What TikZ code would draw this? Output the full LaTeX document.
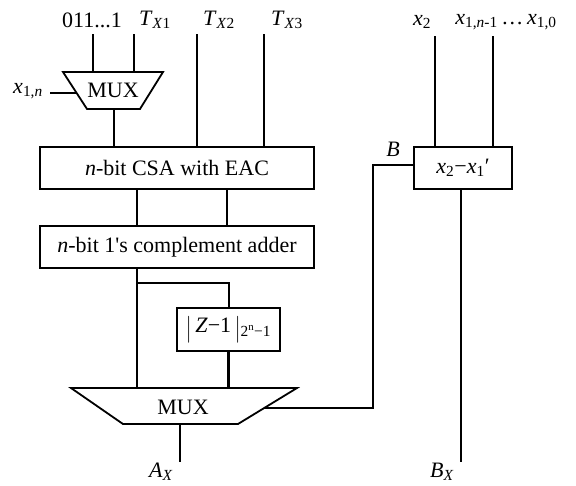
\documentclass[tikz,border=0pt]{standalone}
\usepackage{fontspec}
\setmainfont{Liberation Serif}
\begin{document}
\begin{tikzpicture}[x=1pt,y=-1pt,font=\fontsize{22}{26}\selectfont,
  wire/.style={line width=2.6pt},
  thinwire/.style={line width=2pt},
  blk/.style={draw,line width=1.8pt,rectangle,inner sep=0pt},
  muxshape/.style={draw,line width=1.8pt,line join=miter},
  lbl/.style={inner sep=0pt}]
\useasboundingbox (0,0) rectangle (576,485);
% blocks
\node[blk,minimum width=274pt,minimum height=42pt] (csa) at (177,168) {\textit{n}-bit CSA with EAC};
\node[blk,minimum width=274pt,minimum height=42pt] (add) at (177,247) {\textit{n}-bit 1\textquotesingle s complement adder};
\node[blk,minimum width=103pt,minimum height=43pt] (zb) at (228.5,329.5) {\raisebox{-0.15em}{\scalebox{1}[1.3]{$|$}}\,\textit{Z}−1\,\raisebox{-0.15em}{\scalebox{1}[1.3]{$|$}}\textsubscript{2\textsuperscript{n}−1}};
\node[blk,minimum width=98pt,minimum height=42pt] (xb) at (463,168) {\textit{x}\textsubscript{2}−\textit{x}\textsubscript{1}′};
% small mux
\coordinate (m1a) at (63,72); \coordinate (m1b) at (163,72);
\coordinate (m1c) at (140,109); \coordinate (m1d) at (87,109);
\draw[muxshape] (m1a)--(m1b)--(m1c)--(m1d)--cycle;
\node[lbl] (mux1) at (113,90) {MUX};
% big mux
\coordinate (m2a) at (71,388); \coordinate (m2b) at (297,388);
\coordinate (m2c) at (238,424); \coordinate (m2d) at (123,424);
\draw[muxshape] (m2a)--(m2b)--(m2c)--(m2d)--cycle;
\node[lbl] (mux2) at (183,407) {MUX};
% labels
\node[lbl] (l011) at (92,20) {011...1};
\node[lbl] (ltx1) at (155,20) {\textit{T}\textsubscript{\textit{X}1}};
\node[lbl] (ltx2) at (219,20) {\textit{T}\textsubscript{\textit{X}2}};
\node[lbl] (ltx3) at (287,20) {\textit{T}\textsubscript{\textit{X}3}};
\node[lbl] (lx1n) at (28,91) {\textit{x}\textsubscript{1,\textit{n}}};
\node[lbl] (lx2) at (422,22) {\textit{x}\textsubscript{2}};
\node[lbl] (lx1) at (506,22) {\textit{x}\textsubscript{1,\textit{n}-1}\,…\,\textit{x}\textsubscript{1,0}};
\node[lbl] (lB) at (393,149) {\textit{B}};
\node[lbl] (lAX) at (161,472) {\textit{A}\textsubscript{\textit{X}}};
\node[lbl] (lBX) at (442,472) {\textit{B}\textsubscript{\textit{X}}};
% wire end coordinates
\coordinate (w011) at (93,34);
\coordinate (wtx1) at (134,34);
\coordinate (wtx2) at (197,34);
\coordinate (wtx3) at (264,34);
\coordinate (wx1n) at (50,93);
\coordinate (wx2) at (435,36);
\coordinate (wx1) at (493,36);
\coordinate (c137) at (137,0);
\coordinate (c227) at (227,0);
\coordinate (c114) at (114,0);
\coordinate (c461) at (461,0);
\coordinate (c180) at (180,0);
\coordinate (brk) at (137,283);
\coordinate (bcorner) at (373,165);
\coordinate (bin) at (264,408);
\coordinate (ax) at (180,462);
\coordinate (bx) at (461,462);
% wires
\draw[wire] (w011) -- (w011 |- m1a);
\draw[wire] (wtx1) -- (wtx1 |- m1a);
\draw[wire] (wtx2) -- (wtx2 |- csa.north);
\draw[wire] (wtx3) -- (wtx3 |- csa.north);
\draw[thinwire] (wx1n) -- (75.5,93);
\draw[wire] (c114 |- m1d) -- (c114 |- csa.north);
\draw[wire] (c137 |- csa.south) -- (c137 |- add.north);
\draw[wire] (c227 |- csa.south) -- (c227 |- add.north);
\draw[wire] (c137 |- add.south) -- (c137 |- m2a);
\draw[thinwire] (brk) -| (zb.north);
\draw[wire] (zb.south) -- (zb.south |- m2a);
\draw[wire] (c180 |- m2d) -- (ax);
\draw[wire] (wx2) -- (wx2 |- xb.north);
\draw[wire] (wx1) -- (wx1 |- xb.north);
\draw[thinwire] (xb.west |- bcorner) -- (bcorner) |- (bin);
\draw[wire] (c461 |- xb.south) -- (bx);
\end{tikzpicture}
\end{document}
